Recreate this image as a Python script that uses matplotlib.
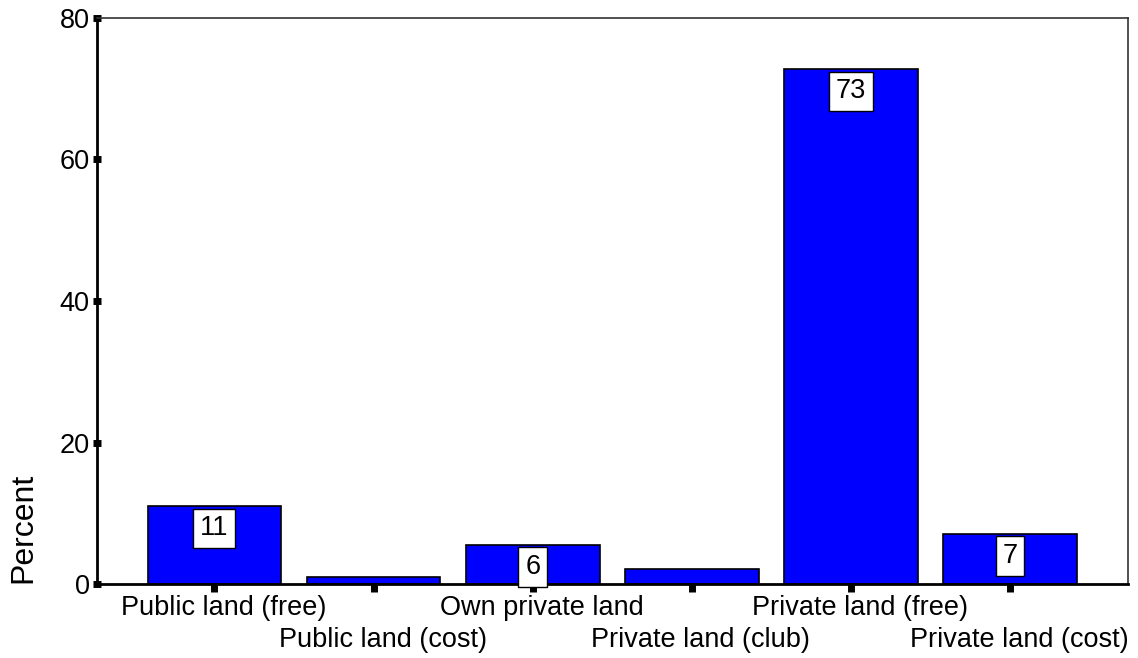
import matplotlib.pyplot as plt
import numpy as np

plt.rcParams['font.family'] = ['Liberation Sans', 'DejaVu Sans']

CATEGORIES = ['Public land (free)', 'Public land (cost)', 'Own private land',
              'Private land (club)', 'Private land (free)', 'Private land (cost)']
PERCENTS = [11.0, 1.0, 5.5, 2.1, 72.7, 7.1]
BAR_LABELS = ['11', '', '6', '', '73', '7']
Y_TICKS = [0, 20, 40, 60, 80]

COLOUR_BAR = '#0000FF'
FONT_SIZE = 19.5

fig = plt.figure(figsize=(11.38, 6.58), dpi=100)
ax = fig.add_axes([0.085, 0.112, 0.906, 0.861])

x = np.arange(len(CATEGORIES))
ax.bar(x, PERCENTS, width=0.84, color=COLOUR_BAR, edgecolor='black', linewidth=1.2, zorder=2)

# value boxes sit just under the top of each bar, but never below the baseline
for xi, val, lab in zip(x, PERCENTS, BAR_LABELS):
    if not lab:
        continue
    y_pos = max(val - 3.1, 2.45)
    ax.text(xi, y_pos, lab, ha='center', va='center', fontsize=FONT_SIZE, zorder=3,
            bbox=dict(boxstyle='square,pad=0.25', facecolor='white', edgecolor='black', linewidth=1))

ax.set_xlim(-0.74, len(CATEGORIES) - 0.26)
ax.set_ylim(0, 80)
ax.set_yticks(Y_TICKS)
ax.set_yticklabels([str(v) for v in Y_TICKS], fontsize=FONT_SIZE)

ax.set_xticks(x)
ax.set_xticklabels([])
ax.tick_params(axis='x', direction='out', length=6, width=5, pad=2)
ax.tick_params(axis='y', direction='inout', length=6, width=5, pad=2)

# category labels alternate over two rows, nudged a bit right like the original
for i, (xi, cat) in enumerate(zip(x, CATEGORIES)):
    row_off = -11 if i % 2 == 0 else -43
    ax.annotate(cat, xy=(xi, 0), xycoords=('data', 'axes fraction'),
                xytext=(9, row_off), textcoords='offset pixels',
                ha='center', va='top', fontsize=FONT_SIZE, annotation_clip=False)

ax.set_ylabel('Percent', fontsize=23)
ax.yaxis.set_label_coords(-0.057, 0.10)

ax.spines['left'].set_linewidth(2)
ax.spines['bottom'].set_linewidth(2)
ax.spines['top'].set_linewidth(1.2)
ax.spines['right'].set_linewidth(1.2)
ax.spines['top'].set_color('#333333')
ax.spines['right'].set_color('#333333')

fig.savefig('out.png', dpi=100)
